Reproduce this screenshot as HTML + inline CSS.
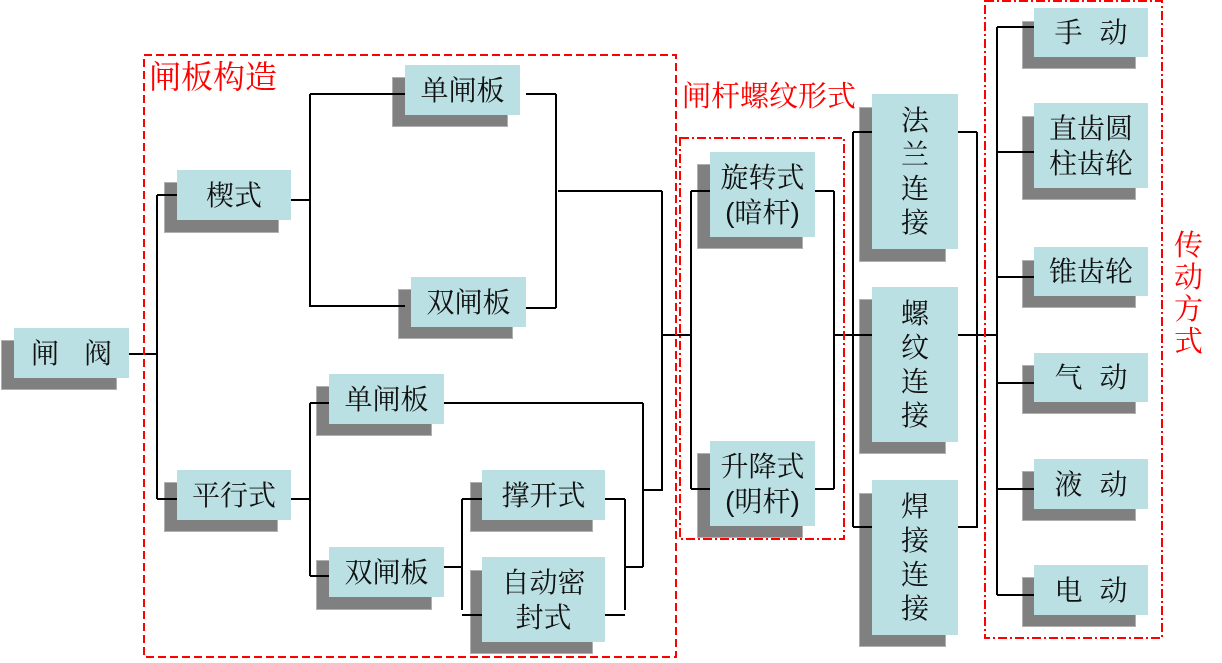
<!DOCTYPE html>
<html><head><meta charset="utf-8">
<style>
html,body{margin:0;padding:0;background:#fff;}
body{width:1222px;height:663px;position:relative;overflow:hidden;font-family:"Liberation Sans","Noto Serif CJK SC","Noto Sans CJK SC",serif;}
.s{position:absolute;background:#808080;z-index:1;box-shadow:0 0 0 1px #b0b0b0 inset;}
.b{position:absolute;background:#bbe0e3;z-index:3;display:flex;align-items:center;justify-content:center;text-align:center;font-size:28px;color:#111;line-height:35px;}
.v{line-height:34px;}
svg{position:absolute;left:0;top:0;z-index:2;}
.r{position:absolute;color:#ff0000;z-index:4;white-space:nowrap;}
.sp17{display:inline-block;width:17px;}
.sp25{display:inline-block;width:25px;}
</style></head><body>

<!-- shadows -->
<div class="s" style="left:1px;top:340px;width:116px;height:50px"></div>
<div class="s" style="left:164px;top:182px;width:115px;height:51px"></div>
<div class="s" style="left:392px;top:77px;width:116px;height:50px"></div>
<div class="s" style="left:398px;top:289px;width:115px;height:50px"></div>
<div class="s" style="left:164px;top:482px;width:114px;height:50px"></div>
<div class="s" style="left:316px;top:386px;width:116px;height:50px"></div>
<div class="s" style="left:316px;top:560px;width:116px;height:50px"></div>
<div class="s" style="left:470px;top:482px;width:123px;height:50px"></div>
<div class="s" style="left:470px;top:570px;width:123px;height:84px"></div>
<div class="s" style="left:697px;top:164px;width:106px;height:85px"></div>
<div class="s" style="left:697px;top:453px;width:106px;height:85px"></div>
<div class="s" style="left:859px;top:107px;width:87px;height:155px"></div>
<div class="s" style="left:859px;top:299px;width:87px;height:155px"></div>
<div class="s" style="left:859px;top:493px;width:87px;height:154px"></div>
<div class="s" style="left:1022px;top:21px;width:114px;height:48px"></div>
<div class="s" style="left:1022px;top:116px;width:114px;height:84px"></div>
<div class="s" style="left:1022px;top:260px;width:114px;height:48px"></div>
<div class="s" style="left:1022px;top:365px;width:114px;height:49px"></div>
<div class="s" style="left:1022px;top:471px;width:114px;height:50px"></div>
<div class="s" style="left:1022px;top:577px;width:114px;height:50px"></div>

<svg width="1222" height="663" viewBox="0 0 1222 663">
<g fill="none" stroke="#000" stroke-width="2" shape-rendering="crispEdges">
<path d="M129 354H157 M157 195V499 M157 195H177 M157 499H177"/>
<path d="M291 200H310 M310 94V307 M310 94H405 M310 306H405"/>
<path d="M526 94H556 M556 94V308 M526 308H556 M558 191H662 M662 191V491 M643 490H662"/>
<path d="M291 499H310 M310 403V576 M310 403H329 M310 576H329"/>
<path d="M444 403H643 M643 403V567 M444 567H462 M462 499V610 M462 499H482 M462 615H482"/>
<path d="M605 499H625 M625 499V610 M605 615H625 M625 567H643"/>
<path d="M662 335H691 M691 191V489 M691 191H710 M691 489H710"/>
<path d="M815 191H834 M815 489H834 M834 191V489 M834 335H872"/>
<path d="M853 132V527 M853 132H872 M853 527H872"/>
<path d="M958 132H977 M958 527H977 M977 132V528 M958 335H997"/>
<path d="M997 27V595 M997 27H1034 M997 152H1034 M997 277H1034 M997 383H1034 M997 489H1034 M997 595H1034"/>
</g>
<g fill="none" stroke="#ff0000" stroke-width="2">
<rect x="144" y="55" width="532" height="602" stroke-dasharray="8 4"/>
<rect x="680" y="138" width="164" height="401" stroke-dasharray="9 3 2 3"/>
<rect x="985" y="1" width="177" height="637" stroke-dasharray="9 3 2 3"/>
</g>
</svg>

<!-- boxes -->
<div class="b" style="left:14px;top:328px;width:115px;height:50px">闸<span class="sp25"></span>阀</div>
<div class="b" style="left:177px;top:170px;width:114px;height:50px">楔式</div>
<div class="b" style="left:405px;top:65px;width:115px;height:50px">单闸板</div>
<div class="b" style="left:411px;top:277px;width:115px;height:50px">双闸板</div>
<div class="b" style="left:177px;top:470px;width:114px;height:50px">平行式</div>
<div class="b" style="left:329px;top:374px;width:115px;height:50px">单闸板</div>
<div class="b" style="left:329px;top:547px;width:115px;height:50px">双闸板</div>
<div class="b" style="left:482px;top:470px;width:123px;height:50px">撑开式</div>
<div class="b" style="left:482px;top:557px;width:123px;height:85px">自动密<br>封式</div>
<div class="b" style="left:710px;top:152px;width:105px;height:85px">旋转式<br>(暗杆)</div>
<div class="b" style="left:710px;top:441px;width:105px;height:85px">升降式<br>(明杆)</div>
<div class="b v" style="left:872px;top:94px;width:86px;height:155px">法<br>兰<br>连<br>接</div>
<div class="b v" style="left:872px;top:287px;width:86px;height:155px">螺<br>纹<br>连<br>接</div>
<div class="b v" style="left:872px;top:480px;width:86px;height:155px">焊<br>接<br>连<br>接</div>
<div class="b" style="left:1034px;top:8px;width:114px;height:49px">手<span class="sp17"></span>动</div>
<div class="b" style="left:1034px;top:103px;width:114px;height:85px">直齿圆<br>柱齿轮</div>
<div class="b" style="left:1034px;top:247px;width:114px;height:49px">锥齿轮</div>
<div class="b" style="left:1034px;top:353px;width:114px;height:49px">气<span class="sp17"></span>动</div>
<div class="b" style="left:1034px;top:459px;width:114px;height:50px">液<span class="sp17"></span>动</div>
<div class="b" style="left:1034px;top:565px;width:114px;height:50px">电<span class="sp17"></span>动</div>

<!-- red labels -->
<div class="r" style="left:149px;top:61px;font-size:32px;line-height:32px;">闸板构造</div>
<div class="r" style="left:682px;top:83px;font-size:29px;line-height:29px;">闸杆螺纹形式</div>
<div class="r" style="left:1174px;top:230px;font-size:29px;line-height:32px;width:30px;white-space:normal;">传<br>动<br>方<br>式</div>

</body></html>
